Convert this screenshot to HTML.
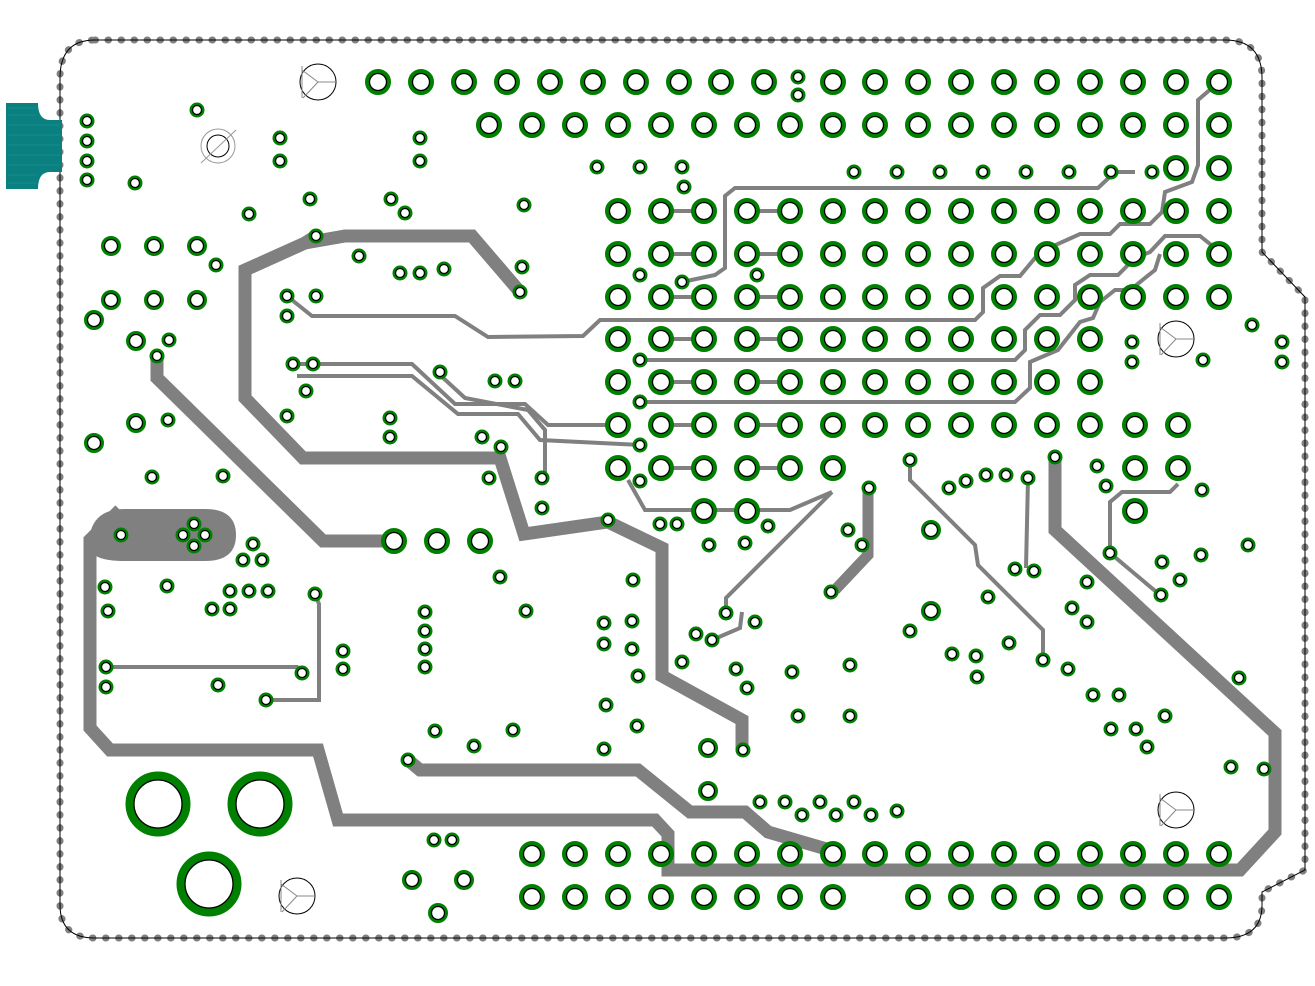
<!DOCTYPE html>
<html><head><meta charset="utf-8"><style>
html,body{margin:0;padding:0;background:#fff;width:1315px;height:986px;overflow:hidden}
svg{display:block}
</style></head><body>
<svg id="s" width="1315" height="986" viewBox="0 0 1315 986" xmlns="http://www.w3.org/2000/svg">
<g fill="none" stroke="#808080" stroke-linejoin="miter" stroke-linecap="butt">
<path d="M316,236 L305,243 L245,270 L245,398 L303,458 L500,458 L524,534 L608,522 L662,548 L662,676 L742,720 L742,750" stroke-width="13"/>
<path d="M305,243 L345,236 L472,236 L520,292" stroke-width="13"/>
<path d="M157,356 L157,378 L323,541 L394,541" stroke-width="13"/>
<path d="M120,510 L90,540 L90,728 L110,750 L318,750 L338,820 L655,820 L668,834 L668,870 L1240,870 L1275,832 L1275,733 L1055,530 L1055,457" stroke-width="13"/>
<path d="M408,760 L420,770 L638,770 L690,812 L745,812 L768,832 L830,850" stroke-width="13"/>
<path d="M868,488 L868,555 L835,590" stroke-width="11"/>
<path d="M90,545 Q90,510 125,510 L205,510 Q235,510 235,535 Q235,560 205,560 L125,560 Q90,560 90,545 Z" fill="#808080" stroke-width="2"/>
<g stroke-width="4">
<path d="M287,296 L312,316 L455,316 L488,337 L583,336 L600,320 L975,320 L983,312 L983,288 L1000,276 L1020,276 L1040,252 L1080,234 L1110,234 L1120,224 L1150,224 L1162,212 L1165,192 L1192,182 L1198,165 L1198,100 L1212,88"/>
<path d="M682,282 L715,275 L725,268 L725,196 L735,188 L1098,188 L1115,172 L1135,172"/>
<path d="M640,360 L1015,360 L1025,350 L1025,330 L1040,315 L1060,315 L1075,300 L1075,285 L1090,275 L1118,275 L1135,258 L1150,252 L1165,236 L1200,236 L1220,252"/>
<path d="M640,402 L1015,402 L1030,388 L1030,362 L1058,350 L1080,322 L1093,318 L1100,302 L1115,290 L1130,290 L1155,270 L1160,254"/>
<path d="M293,364 L412,364 L455,404 L525,404 L548,425 L618,425"/>
<path d="M297,376 L412,376 L458,414 L518,414 L540,440 L640,445"/>
<path d="M440,375 L465,398 L528,410 L545,430 L545,478"/>
<path d="M628,480 L645,510 L790,510 L832,492"/>
<path d="M832,492 L726,598 L726,612"/>
<path d="M742,612 L740,628 L712,640"/>
<path d="M910,460 L910,480 L975,545 L978,565 L1043,630 L1043,660"/>
<path d="M1028,478 L1026,568"/>
<path d="M1110,555 L1110,502 L1122,492 L1170,492 L1178,484"/>
<path d="M1110,553 L1160,595"/>
<path d="M106,667 L297,667 L302,673"/>
<path d="M315,594 L319,604 L319,700 L266,700"/>
<path d="M661,211 L705,211 M747,211 L790,211 M661,254 L705,254 M747,254 L790,254 M661,297 L705,297 M747,297 L790,297 M661,339 L705,339 M747,339 L790,339 M661,382 L705,382 M747,382 L790,382 M661,425 L705,425 M747,425 L790,425 M661,468 L705,468 M747,468 L790,468"/>
</g>
</g>
<path d="M95,40 L1225,40 Q1262,40 1262,78 L1262,252 L1305,297 L1305,870 L1262,892 L1262,905 Q1262,938 1225,938 L95,938 Q60,938 60,905 L60,78 Q60,40 95,40 Z" fill="none" stroke="#808080" stroke-width="7" stroke-dasharray="0.5,12.5" stroke-linecap="round"/>
<path d="M95,40 L1225,40 Q1262,40 1262,78 L1262,252 L1305,297 L1305,870 L1262,892 L1262,905 Q1262,938 1225,938 L95,938 Q60,938 60,905 L60,78 Q60,40 95,40 Z" fill="none" stroke="#000" stroke-width="1"/>
<path d="M6,103 L38,103 Q38,120 50,120 L62,120 L62,172 L50,172 Q38,172 38,189 L6,189 Z" fill="#0b8080"/>
<g stroke="#3aa" stroke-width="0.6" opacity="0.6"><path d="M8,108H36M8,115H36M8,125H60M8,135H60M8,145H60M8,155H60M8,165H60M8,175H36M8,183H36"/></g>
<g fill="none" stroke-width="1">
<circle cx="318" cy="82" r="18" stroke="#000"/><path d="M302,70 L318,82 L336,82 M318,82 L303,98 M302,66 L302,98" stroke="#888"/>
<circle cx="1176" cy="339" r="18" stroke="#000"/><path d="M1160,327 L1176,339 L1194,339 M1176,339 L1161,355 M1160,323 L1160,355" stroke="#888"/>
<circle cx="1176" cy="810" r="18" stroke="#000"/><path d="M1160,798 L1176,810 L1194,810 M1176,810 L1161,826 M1160,794 L1160,826" stroke="#888"/>
<circle cx="297" cy="896" r="18" stroke="#000"/><path d="M281,884 L297,896 L315,896 M297,896 L282,912 M281,880 L281,912" stroke="#888"/>
<circle cx="218" cy="146" r="17" stroke="#999"/><circle cx="218" cy="146" r="11" stroke="#000"/><path d="M201,163 L236,130" stroke="#999"/>
</g>
<g id="pads"></g>
</svg>
<script>
var out="";
function P(x,y,R,r){out+='<circle cx="'+x+'" cy="'+y+'" r="'+(R-(R-r)/2)+'" fill="#fff" stroke="#008000" stroke-width="'+(R-r)+'"/><circle cx="'+x+'" cy="'+y+'" r="'+r+'" fill="#fff" stroke="#000" stroke-width="1.3"/>';}
function big(x,y){P(x,y,13,8.5);}
function sm(x,y){P(x,y,7.5,4.5);}
function md(x,y){P(x,y,10,6.5);}
var xs=[618,661,704,747,790,833,875,918,961,1004,1047,1090,1133,1176,1219];
[378,421,464,507,550,593,636,679,721,764,833,875,918,961,1004,1047,1090,1133,1176,1219].forEach(function(x){big(x,82)});
[489,532,575].concat(xs).forEach(function(x){big(x,125)});
big(1176,168);big(1219,168);
[211,254,297].forEach(function(y){xs.forEach(function(x){big(x,y)})});
[339,382].forEach(function(y){xs.slice(0,12).forEach(function(x){big(x,y)})});
xs.slice(0,12).forEach(function(x){big(x,425)});big(1135,425);big(1178,425);
[618,661,704,747,790,833].forEach(function(x){big(x,468)});big(1135,468);big(1178,468);
big(704,511);big(747,511);big(1135,511);
var bx=[532,575,618,661,704,747,790,833,875,918,961,1004,1047,1090,1133,1176,1219];
bx.forEach(function(x){big(x,854)});
bx.forEach(function(x){if(x!=875)big(x,897)});
big(394,541);big(437,541);big(480,541);
sm(798,77);sm(798,95);
[[111,246],[154,246],[197,246],[111,300],[154,300],[197,300],[94,320],[136,341],[94,443],[136,423],[708,748],[708,791],[931,530],[931,611],[412,880],[464,880],[438,913]].forEach(function(p){md(p[0],p[1])});
[[87,121],[87,141],[87,161],[87,180],[135,183],[197,110],[280,138],[280,161],[420,138],[420,161],[249,214],[310,199],[391,199],[405,213],[524,205],[316,236],[359,256],[216,265],[400,273],[420,273],[444,269],[522,267],[520,292],[287,296],[316,296],[287,316],[169,340],[157,356],[293,364],[313,364],[306,391],[287,416],[440,372],[495,381],[515,381],[390,418],[390,437],[482,437],[501,447],[168,420],[152,477],[223,476],[489,478],[542,478],[542,508],[608,520],[597,167],[640,167],[682,167],[684,187],[640,275],[682,282],[757,275],[640,360],[640,402],[640,445],[640,481],[660,524],[677,524],[709,545],[745,543],[768,526],[854,172],[897,172],[940,172],[983,172],[1026,172],[1069,172],[1111,172],[1152,172],[1252,325],[1282,342],[1282,362],[1132,342],[1132,362],[1203,360],[910,460],[949,488],[966,481],[986,475],[1006,475],[1028,478],[1055,457],[1097,466],[1106,486],[1202,490],[869,488],[848,530],[862,545],[831,592],[1015,569],[1034,571],[1087,582],[1072,608],[1087,622],[1110,553],[1162,562],[1180,580],[1201,555],[1161,595],[1248,545],[988,597],[910,631],[952,654],[976,656],[977,677],[1009,643],[1043,660],[1068,669],[1093,695],[1119,695],[1111,729],[1136,729],[1165,716],[1147,747],[1239,678],[1231,767],[1264,769],[121,535],[194,524],[183,535],[205,535],[194,546],[253,544],[243,560],[262,560],[105,587],[108,611],[167,586],[230,591],[249,591],[268,591],[212,609],[230,609],[315,594],[106,667],[106,687],[218,685],[266,700],[302,673],[343,651],[343,669],[425,612],[425,631],[425,649],[425,667],[500,577],[526,611],[604,623],[604,644],[632,621],[632,649],[638,676],[633,580],[606,705],[637,726],[604,749],[435,731],[474,746],[513,730],[408,760],[434,840],[452,840],[696,634],[712,640],[726,613],[755,622],[682,662],[736,669],[747,688],[792,672],[850,665],[798,716],[850,716],[743,750],[760,802],[785,802],[802,815],[820,802],[836,815],[854,802],[871,815],[897,811]].forEach(function(p){sm(p[0],p[1])});
[[158,804],[260,804],[209,884]].forEach(function(p){out+='<circle cx="'+p[0]+'" cy="'+p[1]+'" r="28" fill="#fff" stroke="#008000" stroke-width="9"/><circle cx="'+p[0]+'" cy="'+p[1]+'" r="24" fill="#fff" stroke="#000" stroke-width="1.3"/>';});
document.getElementById("pads").innerHTML=out;
</script>
</body></html>
